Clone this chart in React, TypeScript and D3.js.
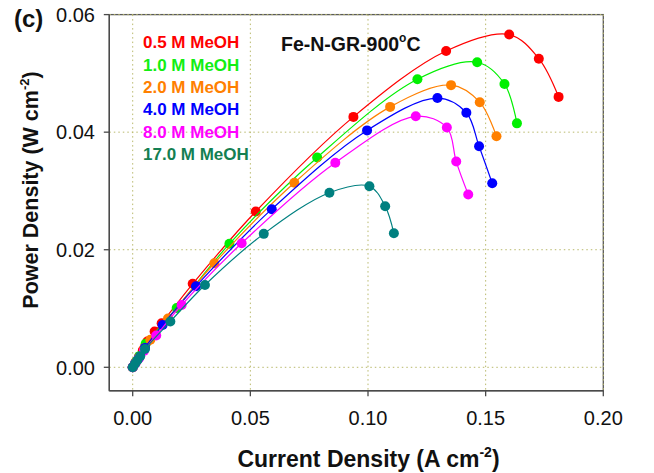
import React from "react";
import * as d3 from "d3";

// Power density vs current density for Fe-N-GR-900°C at several methanol concentrations
const seriesLabels = ["0.5 M MeOH", "1.0 M MeOH", "2.0 M MeOH", "4.0 M MeOH", "8.0 M MeOH", "17.0 M MeOH"];

const current05 = [0, 0.0012, 0.0026, 0.0043, 0.0062, 0.0093, 0.0123, 0.0255, 0.0523, 0.0938, 0.1332, 0.16, 0.1726, 0.181];
const power05 = [0, 0.0008, 0.0017, 0.0029, 0.0044, 0.0061, 0.0075, 0.0142, 0.0265, 0.0426, 0.0538, 0.0566, 0.0525, 0.046];

const current10 = [0, 0.0013, 0.0028, 0.0055, 0.0187, 0.0411, 0.0784, 0.121, 0.1464, 0.158, 0.1633];
const power10 = [0, 0.0009, 0.0019, 0.004, 0.0101, 0.021, 0.0357, 0.049, 0.0519, 0.0482, 0.0415];

const current20 = [0, 0.0012, 0.0027, 0.005, 0.0075, 0.015, 0.0347, 0.0687, 0.1094, 0.1353, 0.1475, 0.1546];
const power20 = [0, 0.0008, 0.0017, 0.0033, 0.0047, 0.0083, 0.0177, 0.0314, 0.0443, 0.048, 0.0451, 0.0393];

const current40 = [0, 0.0011, 0.0025, 0.0052, 0.0127, 0.0269, 0.0591, 0.0996, 0.1295, 0.1418, 0.1472, 0.1528];
const power40 = [0, 0.0007, 0.0015, 0.0033, 0.0072, 0.0138, 0.0269, 0.0403, 0.0458, 0.0433, 0.0376, 0.0313];

const current80 = [0, 0.0012, 0.0026, 0.0048, 0.01, 0.0208, 0.0463, 0.0861, 0.1203, 0.1335, 0.1375, 0.1426];
const power80 = [0, 0.0007, 0.0015, 0.0028, 0.0054, 0.0106, 0.0211, 0.0348, 0.0427, 0.0408, 0.035, 0.0294];

const current170 = [0, 0.001, 0.002, 0.0032, 0.0052, 0.016, 0.0307, 0.0557, 0.0836, 0.1006, 0.1073, 0.111];
const power170 = [0, 0.0006, 0.0012, 0.0019, 0.0031, 0.0078, 0.014, 0.0227, 0.0297, 0.0308, 0.0274, 0.0228];

const xTicks = [0, 0.05, 0.1, 0.15, 0.2];
const yTicks = [0, 0.02, 0.04, 0.06];

const markColors = ["#ff0000", "#00f000", "#ff8000", "#0000ff", "#ff00ff", "#008080"];
const textColors = ["#ff0000", "#12ee12", "#ff8000", "#0000ff", "#ff00ff", "#147f52"];

const series = [
  { xs: current05, ys: power05 },
  { xs: current10, ys: power10 },
  { xs: current20, ys: power20 },
  { xs: current40, ys: power40 },
  { xs: current80, ys: power80 },
  { xs: current170, ys: power170 },
];

const W = 654;
const H = 473;
const FONT = "'Liberation Sans', Arial, Helvetica, sans-serif";

export default function App() {
  const frame = { left: 109.3, right: 603.3, top: 14.6, bottom: 390.7 };
  const x = d3.scaleLinear().domain([0, 0.2]).range([132.7, 603.3]);
  const y = d3.scaleLinear().domain([0, 0.06]).range([367.3, 14.6]);

  const line = d3
    .line<[number, number]>()
    .x((d) => x(d[0]))
    .y((d) => y(d[1]))
    .curve(d3.curveCatmullRom.alpha(0.5));

  const gridColor = "#b9b96c";
  const axisColor = "#4a4a4a";

  return (
    <svg
      width={W}
      height={H}
      viewBox={`0 0 ${W} ${H}`}
      style={{ position: "absolute", left: 0, top: 0, background: "#fff" }}
      fontFamily={FONT}
    >
      <rect x={0} y={0} width={W} height={H} fill="#fff" />

      {/* frame */}
      <rect
        x={frame.left}
        y={frame.top}
        width={frame.right - frame.left}
        height={frame.bottom - frame.top}
        fill="none"
        stroke="#5a5a5a"
        strokeWidth={1.3}
      />

      {/* dotted grid */}
      {xTicks.map((t) => (
        <line
          key={"gx" + t}
          x1={x(t)}
          x2={x(t)}
          y1={frame.top}
          y2={frame.bottom}
          stroke={gridColor}
          strokeWidth={1}
          strokeDasharray="1.5,3"
        />
      ))}
      {yTicks.map((t) => (
        <line
          key={"gy" + t}
          x1={frame.left}
          x2={frame.right}
          y1={y(t)}
          y2={y(t)}
          stroke={gridColor}
          strokeWidth={1}
          strokeDasharray="1.5,3"
        />
      ))}

      {/* left and bottom axes */}
      <line x1={frame.left} x2={frame.left} y1={frame.top} y2={frame.bottom} stroke={axisColor} strokeWidth={1.4} />
      <line x1={frame.left} x2={frame.right} y1={frame.bottom} y2={frame.bottom} stroke={axisColor} strokeWidth={1.4} />

      {xTicks.map((t) => (
        <g key={"xt" + t}>
          <line x1={x(t)} x2={x(t)} y1={frame.bottom} y2={frame.bottom + 5.5} stroke={axisColor} strokeWidth={1.3} />
          <text x={x(t)} y={425} textAnchor="middle" fontSize={20} fill="#111">
            {t.toFixed(2)}
          </text>
        </g>
      ))}
      {yTicks.map((t) => (
        <g key={"yt" + t}>
          <line x1={frame.left - 5.5} x2={frame.left} y1={y(t)} y2={y(t)} stroke={axisColor} strokeWidth={1.3} />
          <text x={95} y={y(t) + 7.2} textAnchor="end" fontSize={20} fill="#111">
            {t.toFixed(2)}
          </text>
        </g>
      ))}

      {/* curves and markers */}
      {series.map((s, i) => {
        const pts: [number, number][] = s.xs.map((v, k) => [v, s.ys[k]]);
        return (
          <g key={"s" + i}>
            <path d={line(pts) || ""} fill="none" stroke={markColors[i]} strokeWidth={1.2} />
            {pts.map((p, k) => (
              <circle key={k} cx={x(p[0])} cy={y(p[1])} r={5} fill={markColors[i]} />
            ))}
          </g>
        );
      })}

      {/* legend */}
      {seriesLabels.map((lab, i) => (
        <text key={lab} x={143} y={48.3 + i * 22.3} fontSize={17} fontWeight="bold" fill={textColors[i]}>
          {lab}
        </text>
      ))}

      {/* sample name */}
      <text x={281} y={51} fontSize={19.5} fontWeight="bold" fill="#111">
        Fe-N-GR-900
        <tspan fontSize={12} dy={-9}>o</tspan>
        <tspan dy={9}>C</tspan>
      </text>

      {/* panel label */}
      <text x={14} y={27} fontSize={24} fontWeight="bold" fill="#111">
        (c)
      </text>

      {/* axis titles */}
      <text x={368.5} y={467} textAnchor="middle" fontSize={23} fontWeight="bold" fill="#111">
        Current Density (A cm
        <tspan fontSize={14} dy={-10}>-2</tspan>
        <tspan dy={10}>)</tspan>
      </text>
      <text
        transform="translate(38,190) rotate(-90)"
        textAnchor="middle"
        fontSize={21.5}
        fontWeight="bold"
        fill="#111"
      >
        Power Density (W cm
        <tspan fontSize={13} dy={-9}>-2</tspan>
        <tspan dy={9}>)</tspan>
      </text>
    </svg>
  );
}
